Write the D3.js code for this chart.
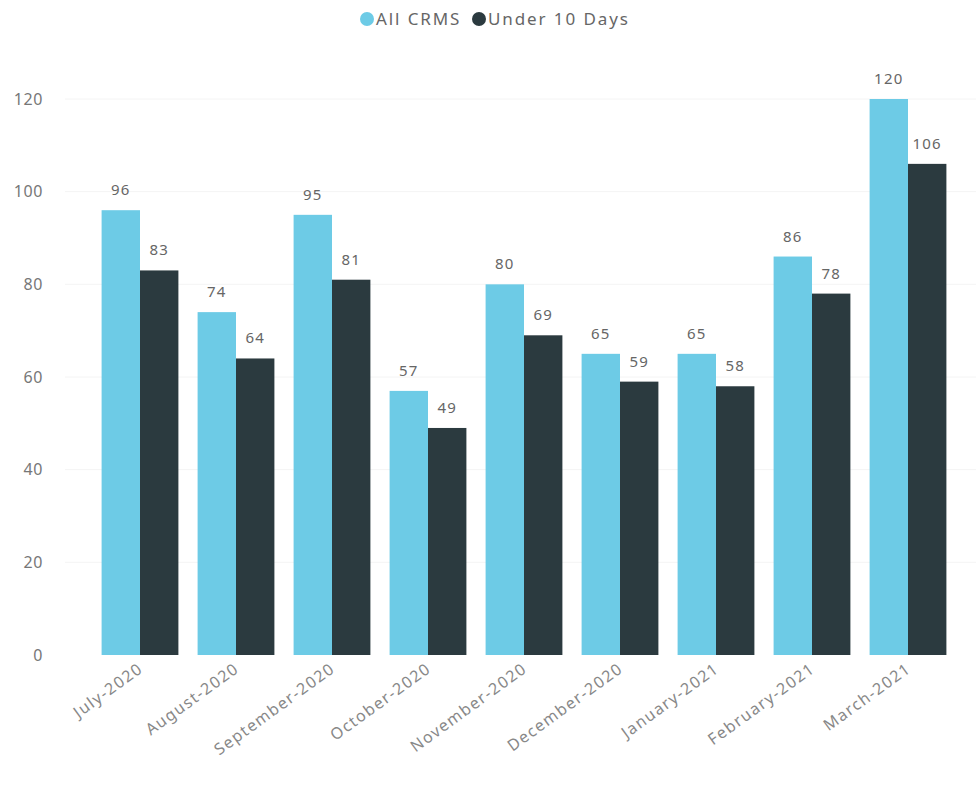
<!DOCTYPE html>
<html>
<head>
<meta charset="utf-8">
<script src="https://cdn.jsdelivr.net/npm/d3@7"></script>
<style>
  body { margin: 0; background: #fff; }
  text { font-family: "Noto Sans", "Open Sans", sans-serif; }
</style>
</head>
<body>
<div id="chart"></div>
<script>
// data
const months = ["July-2020", "August-2020", "September-2020", "October-2020", "November-2020",
  "December-2020", "January-2021", "February-2021", "March-2021"];
const allCrms = [96, 74, 95, 57, 80, 65, 65, 86, 120];
const under10 = [83, 64, 81, 49, 69, 59, 58, 78, 106];
const seriesNames = ["All CRMS", "Under 10 Days"];
const yTicks = [0, 20, 40, 60, 80, 100, 120];

const width = 976, height = 791;
const colors = ["#6dcbe6", "#2b3a3f"];

const svg = d3.select("#chart").append("svg")
  .attr("width", width)
  .attr("height", height);

const x = d3.scaleBand()
  .domain(months)
  .range([92, 956])
  .paddingInner(0.2)
  .paddingOuter(0.1);

const x1 = d3.scaleBand()
  .domain(seriesNames)
  .range([0, x.bandwidth()]);

const y = d3.scaleLinear()
  .domain([0, 120])
  .range([655, 99]);

// faint gridlines
svg.append("g")
  .selectAll("line")
  .data(yTicks.slice(1))
  .enter()
  .append("line")
  .attr("x1", 65)
  .attr("x2", width)
  .attr("y1", d => y(d))
  .attr("y2", d => y(d))
  .attr("stroke", "#f4f4f4")
  .attr("stroke-width", 1);

// y axis labels
const yAxis = svg.append("g")
  .attr("transform", "translate(45,0)")
  .call(d3.axisLeft(y).tickValues(yTicks).tickSize(0).tickPadding(2));
yAxis.select(".domain").remove();
yAxis.selectAll("text")
  .attr("font-size", 16)
  .attr("letter-spacing", 0.6)
  .attr("fill", "#777")
  .style("font-family", "'Noto Sans', sans-serif");

// bars
const rows = months.map((m, i) => ({ month: m, values: [allCrms[i], under10[i]] }));

const groups = svg.selectAll(".grp")
  .data(rows)
  .enter()
  .append("g")
  .attr("class", "grp")
  .attr("transform", d => `translate(${x(d.month)},0)`);

groups.selectAll("rect")
  .data(d => d.values.map((v, j) => ({ name: seriesNames[j], value: v, idx: j })))
  .enter()
  .append("rect")
  .attr("x", d => x1(d.name))
  .attr("y", d => y(d.value))
  .attr("width", x1.bandwidth())
  .attr("height", d => y(0) - y(d.value))
  .attr("fill", d => colors[d.idx]);

groups.selectAll(".lbl")
  .data(d => d.values.map((v, j) => ({ name: seriesNames[j], value: v })))
  .enter()
  .append("text")
  .attr("class", "lbl")
  .attr("x", d => x1(d.name) + x1.bandwidth() / 2)
  .attr("y", d => y(d.value) - 15)
  .attr("text-anchor", "middle")
  .attr("font-size", 15)
  .attr("letter-spacing", 1.2)
  .attr("fill", "#666")
  .text(d => d.value);

// x axis labels, rotated
const xAxis = svg.append("g")
  .attr("transform", "translate(0,660)")
  .call(d3.axisBottom(x).tickSize(0).tickPadding(0));
xAxis.select(".domain").remove();
xAxis.selectAll("text")
  .attr("font-size", 16)
  .attr("letter-spacing", 1.4)
  .attr("fill", "#888")
  .attr("text-anchor", "end")
  .attr("dx", "-0.2em")
  .attr("dy", "0.7em")
  .attr("transform", "rotate(-36)")
  .style("font-family", "'Noto Sans', sans-serif");

// legend
const legend = svg.append("g");
const legendX = [367, 479];
seriesNames.forEach((name, i) => {
  legend.append("circle")
    .attr("cx", legendX[i])
    .attr("cy", 19)
    .attr("r", 7)
    .attr("fill", colors[i]);
  legend.append("text")
    .attr("x", legendX[i] + 9)
    .attr("y", 25)
    .attr("font-size", 17)
    .attr("letter-spacing", 1.9)
    .attr("fill", "#666")
    .text(name);
});
</script>
</body>
</html>
